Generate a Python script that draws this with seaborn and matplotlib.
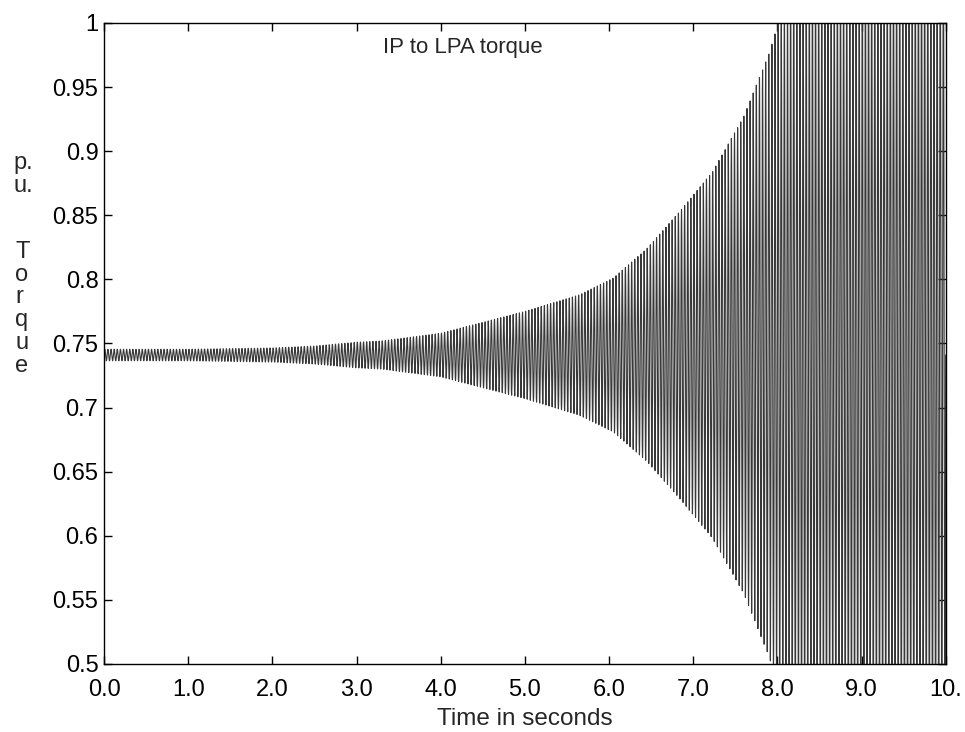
import numpy as np
import pandas as pd
import matplotlib
matplotlib.use("Agg")
import matplotlib.pyplot as plt
import seaborn as sns

# Envelope of the oscillation
env_time = [0.0, 1.0, 2.0, 2.5, 3.0, 3.3, 4.0, 4.47, 5.0, 5.65, 6.05, 6.45, 6.84, 7.23, 7.6, 7.9, 8.2, 10.0]
env_halfamp = [0.0045, 0.0045, 0.0055, 0.007, 0.010, 0.011, 0.017, 0.025, 0.034, 0.047, 0.060, 0.083,
               0.112, 0.143, 0.186, 0.235, 0.300, 0.330]
mean_torque = 0.741          # p.u.
osc_freq_hz = 27.0           # torsional oscillation frequency seen in the trace

x_ticks = [0, 1, 2, 3, 4, 5, 6, 7, 8, 9, 10]
x_ticklabels = ["0.0", "1.0", "2.0", "3.0", "4.0", "5.0", "6.0", "7.0", "8.0", "9.0", "10."]
y_ticks = [0.5, 0.55, 0.6, 0.65, 0.7, 0.75, 0.8, 0.85, 0.9, 0.95, 1.0]
y_ticklabels = ["0.5", "0.55", "0.6", "0.65", "0.7", "0.75", "0.8", "0.85", "0.9", "0.95", "1"]

t = np.linspace(0, 10, 16001)
amp = np.interp(t, env_time, env_halfamp)
torque = mean_torque + amp * np.sin(2 * np.pi * osc_freq_hz * t)
df = pd.DataFrame({"t": t, "torque": torque})

sns.set_style("white")
plt.rcParams['font.family'] = ['Liberation Sans', 'DejaVu Sans']

fig = plt.figure(figsize=(9.65, 7.32), dpi=100)
ax = fig.add_axes([0.1078, 0.0929, 0.8722, 0.8757])

sns.lineplot(data=df, x="t", y="torque", estimator=None, sort=False,
             color="#383838", linewidth=0.8, ax=ax)

ax.set_xlim(0, 10)
ax.set_ylim(0.5, 1.0)
ax.set_xticks(x_ticks)
ax.set_xticklabels(x_ticklabels, fontsize=17)
ax.set_yticks(y_ticks)
ax.set_yticklabels(y_ticklabels, fontsize=17)
ax.tick_params(direction="in", length=6, width=1, top=True, right=True,
               bottom=True, left=True, pad=4, colors="black")
ax.tick_params(axis="x", pad=11)
for s in ax.spines.values():
    s.set_visible(True)
    s.set_color("black")
    s.set_linewidth(1.0)
ax.set_xlabel("Time in seconds", fontsize=17.5, labelpad=5)
ax.set_ylabel("")

ax.text(3.31, 0.981, "IP to LPA torque", fontsize=16, ha="left", va="center")

fig.text(0.014, 0.762, "p.\nu.", fontsize=17, ha="left", va="center", linespacing=1.05)
fig.text(0.016, 0.578, "T\no\nr\nq\nu\ne", fontsize=17, ha="left", va="center", linespacing=1.05)

fig.savefig("out.png", dpi=100, facecolor="white")
